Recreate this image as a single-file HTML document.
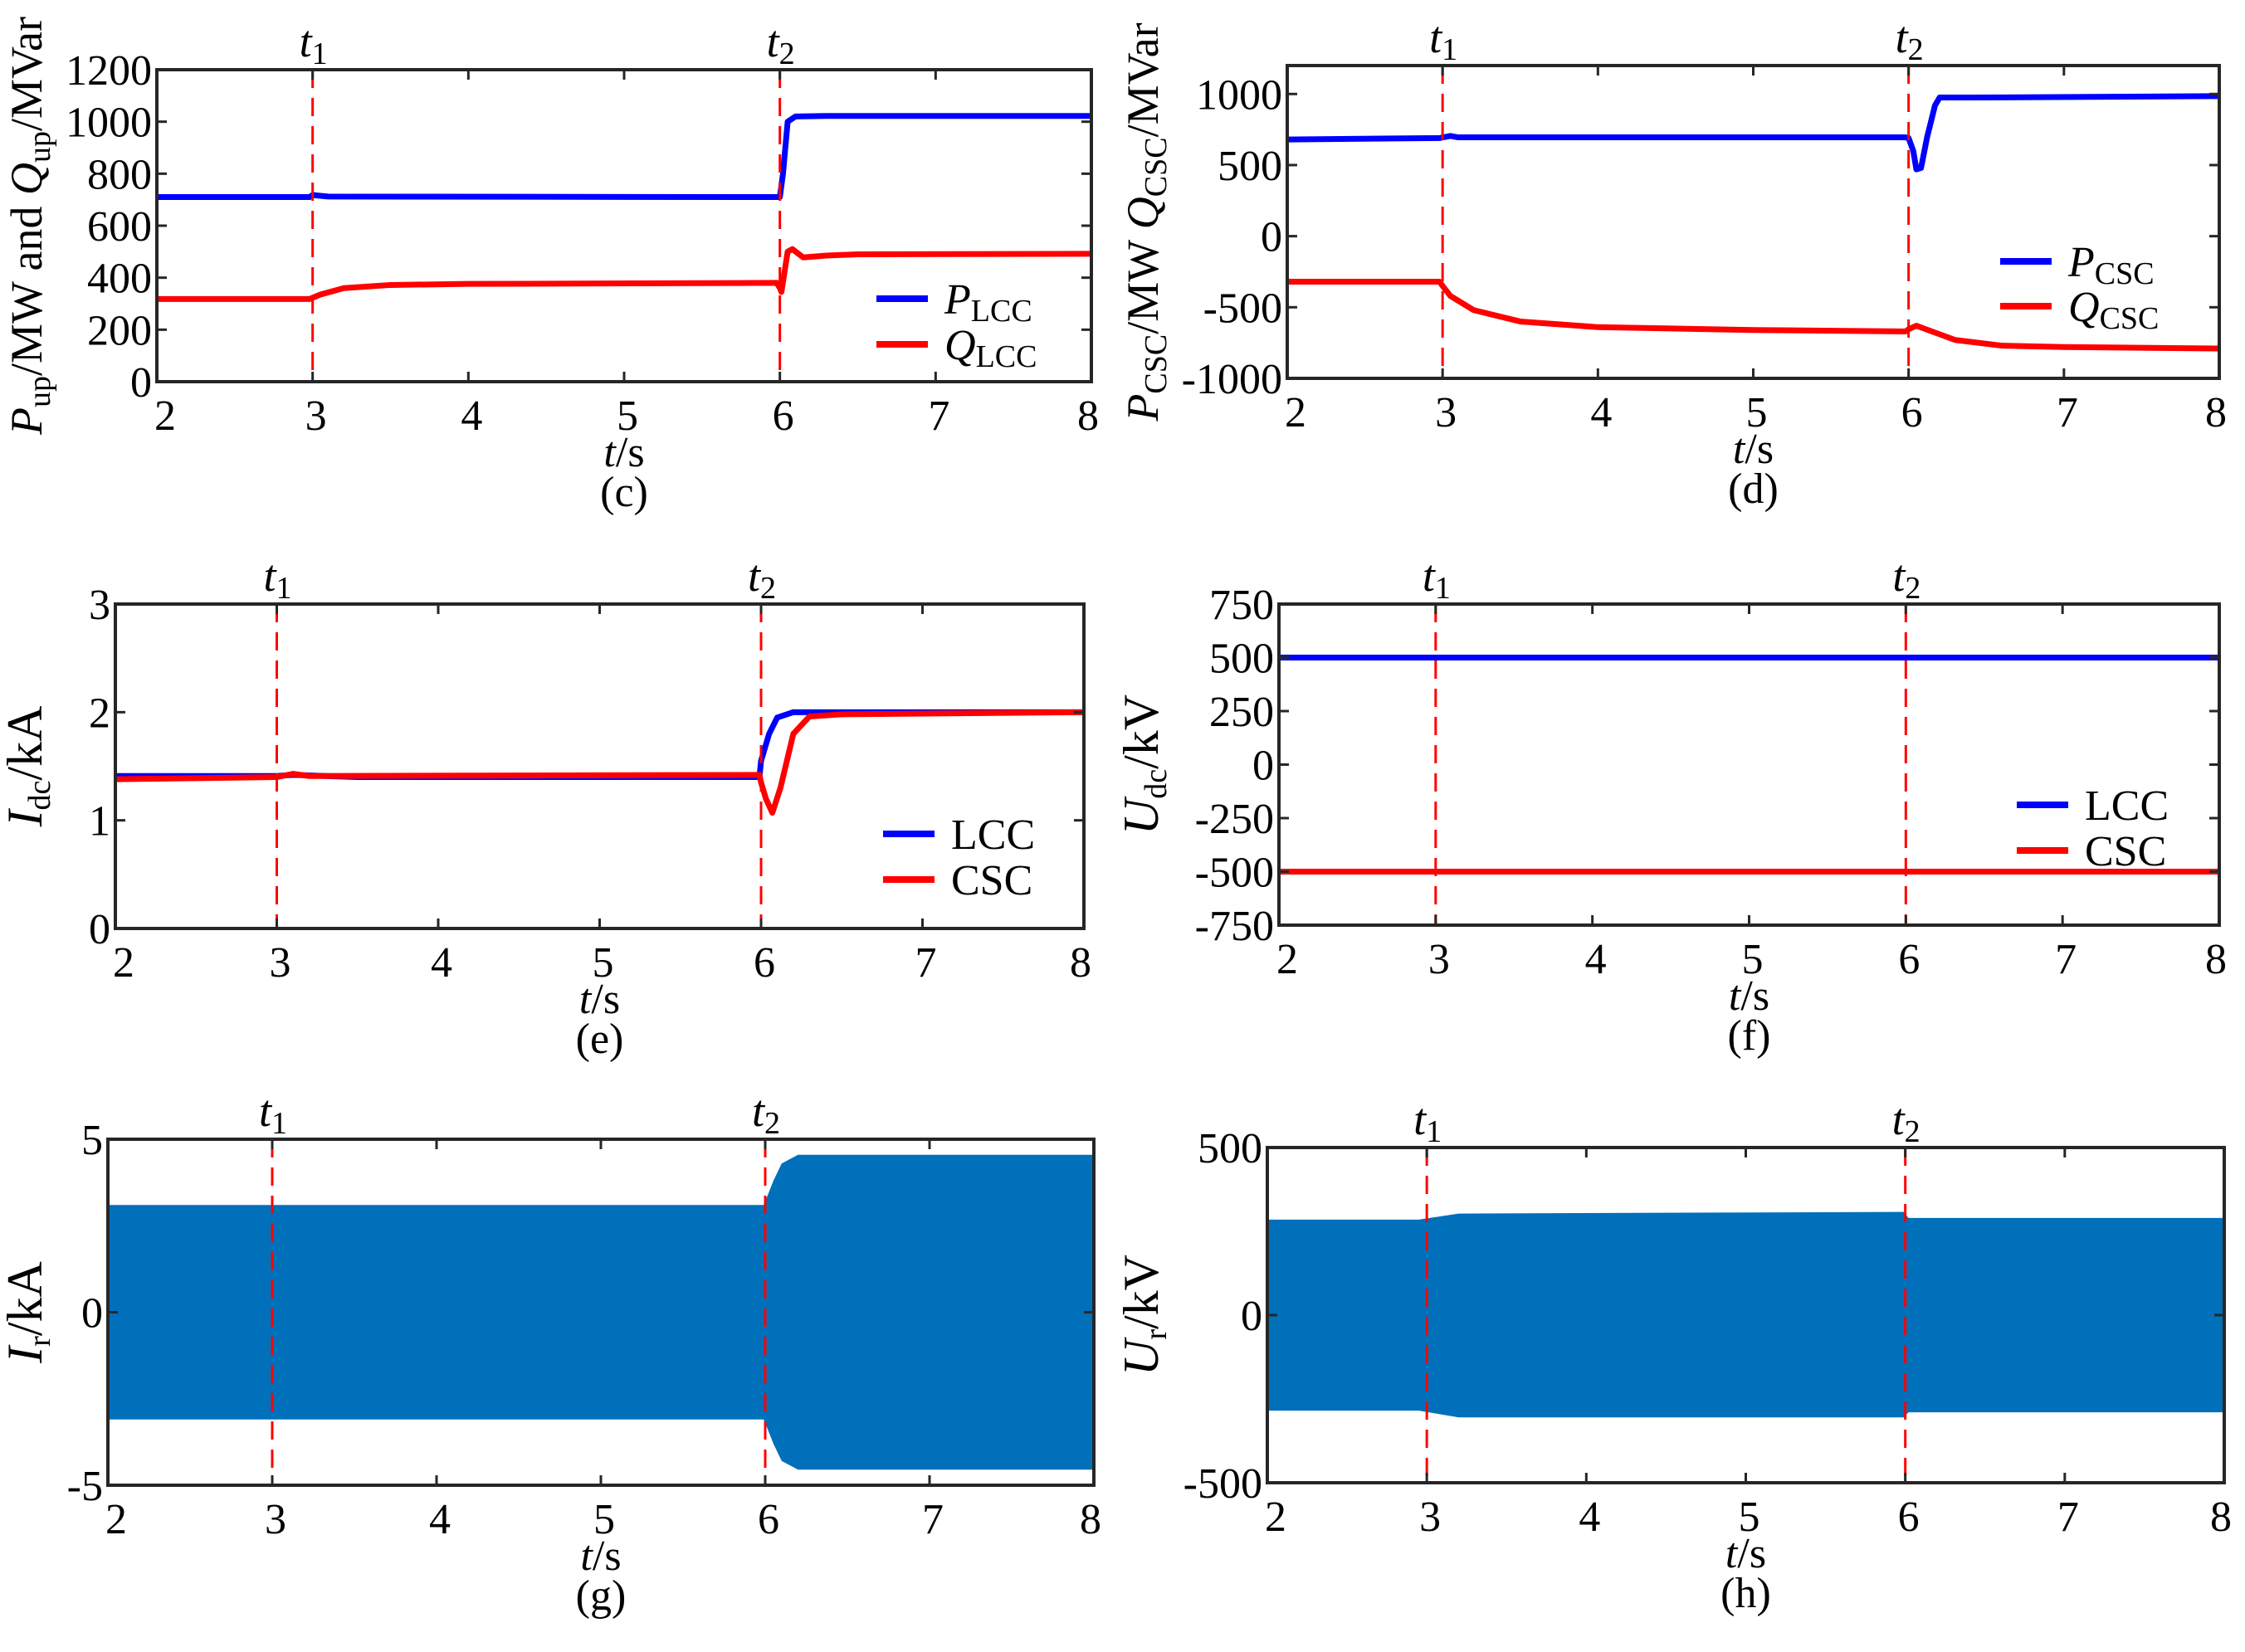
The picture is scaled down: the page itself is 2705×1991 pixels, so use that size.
<!DOCTYPE html>
<html><head><meta charset="utf-8">
<style>
html,body{margin:0;padding:0;background:#fff;}
svg, svg text{font-family:"Liberation Serif","Times New Roman",serif;}
</style></head>
<body>
<svg id="fig" width="2705" height="1986" viewBox="0 0 2705 1986" xmlns="http://www.w3.org/2000/svg" font-family="Liberation Serif, serif"></svg>
<script>
// ---- data ----
const xTicks = [2,3,4,5,6,7,8];
const eventTimes = [3,6];
// (c)
const cT_P = [2,2.98,3.0,3.1,5.98,6.0,6.02,6.05,6.1,6.3,8];
const cP = [710,710,718,712,710,710,800,1000,1020,1022,1022];
const cT_Q = [2,2.98,3.05,3.2,3.5,4,5.98,6.0,6.01,6.05,6.08,6.15,6.3,6.5,8];
const cQ = [318,318,335,360,372,376,380,360,345,500,510,478,485,490,492];
const cYTicks = [0,200,400,600,800,1000,1200];
// (d)
const dT_P = [2,2.98,3.05,3.1,5.98,6.0,6.03,6.05,6.08,6.12,6.17,6.2,6.4,8];
const dP = [680,690,705,695,695,690,600,470,480,700,920,975,975,985];
const dT_Q = [2,2.98,3.0,3.05,3.2,3.5,4,5,5.98,6.0,6.05,6.1,6.3,6.6,7,8];
const dQ = [-320,-320,-350,-420,-520,-600,-640,-660,-670,-655,-630,-650,-730,-770,-780,-790];
const dYTicks = [-1000,-500,0,500,1000];
// (e)
const eT_L = [2,3,3.1,3.5,5.99,6.0,6.05,6.1,6.2,8];
const eL = [1.41,1.41,1.42,1.40,1.40,1.55,1.8,1.95,2.0,2.0];
const eT_C = [2,3,3.1,3.2,5.99,6.0,6.03,6.07,6.12,6.2,6.3,6.5,8];
const eC = [1.38,1.40,1.43,1.41,1.42,1.35,1.2,1.07,1.3,1.8,1.96,1.98,2.0];
const eYTicks = [0,1,2,3];
// (f)
const fT = [2,8];
const fL = [500,500];
const fC = [-500,-500];
const fYTicks = [-750,-500,-250,0,250,500,750];
// (g) envelope
const gT = [2,5.99,6.0,6.05,6.1,6.2,8];
const gUp = [3.1,3.1,3.2,3.8,4.3,4.55,4.55];
const gLo = [-3.1,-3.1,-3.2,-3.8,-4.3,-4.55,-4.55];
const gYTicks = [-5,0,5];
// (h) envelope
const hT = [2,2.95,3.2,5.99,6.02,8];
const hUp = [285,285,303,308,290,290];
const hLo = [-285,-285,-305,-305,-290,-290];
const hYTicks = [-500,0,500];

const NS = "http://www.w3.org/2000/svg";
const svg = document.getElementById('fig');
function mk(tag, attrs, parent){
  const e = document.createElementNS(NS, tag);
  for (const k in attrs) e.setAttribute(k, attrs[k]);
  if (tag === 'text') e.setAttribute('font-family', 'Liberation Serif, Times New Roman, serif');
  (parent||svg).appendChild(e);
  return e;
}
function panel(cfg){
  const g = mk('g',{});
  
  
  const X = t => cfg.x0 + (t-2)/6*(cfg.x1-cfg.x0);
  const Y = v => cfg.y1 - (v-cfg.ymin)/(cfg.ymax-cfg.ymin)*(cfg.y1-cfg.y0);
  (cfg.env||[]).forEach(en=>{
    let d = '';
    en.t.forEach((t,i)=>{ d += (i?'L':'M')+X(t)+' '+Y(en.up[i]); });
    for (let i=en.t.length-1;i>=0;i--) d += 'L'+X(en.t[i])+' '+Y(en.lo[i]);
    const p = mk('path',{d:d+'Z',fill:'#0070bb'},g);
    
    
  });
  (cfg.series||[]).forEach(s=>{
    const pts = s.t.map((t,i)=>X(t)+','+Y(s.v[i])).join(' ');
    const p = mk('polyline',{points:pts,fill:'none',stroke:s.color,'stroke-width':7,'stroke-linejoin':'round'},g);
    
    
  });
  eventTimes.forEach((t,i)=>{
    const l = mk('line',{x1:X(t),x2:X(t),y1:cfg.y0,y2:cfg.y1,stroke:'#ff0000','stroke-width':3,'stroke-dasharray':'22 12'},g);
    
    
    const tx = mk('text',{x:X(t)-16,y:cfg.y0-16,'font-size':54,'font-style':'italic'},g);
    
    
    tx.textContent = 't';
    const sb = mk('tspan',{'font-size':38,'font-style':'normal',dy:9},tx);
    sb.textContent = String(i+1);
  });
  const b = mk('rect',{x:cfg.x0,y:cfg.y0,width:cfg.x1-cfg.x0,height:cfg.y1-cfg.y0,fill:'none',stroke:'#262626','stroke-width':4},g);
  
  
  xTicks.forEach(t=>{
    mk('line',{x1:X(t),x2:X(t),y1:cfg.y1,y2:cfg.y1-12,stroke:'#262626','stroke-width':3},g);
    mk('line',{x1:X(t),x2:X(t),y1:cfg.y0,y2:cfg.y0+12,stroke:'#262626','stroke-width':3},g);
    const tl = mk('text',{x:X(t)+(t===2?10:t===8?-4:4),y:cfg.y1+58,'font-size':52,'text-anchor':'middle'},g);
    
    
    tl.textContent = String(t);
  });
  cfg.yTicks.forEach(v=>{
    mk('line',{x1:cfg.x0,x2:cfg.x0+12,y1:Y(v),y2:Y(v),stroke:'#262626','stroke-width':3},g);
    mk('line',{x1:cfg.x1,x2:cfg.x1-12,y1:Y(v),y2:Y(v),stroke:'#262626','stroke-width':3},g);
    const tl = mk('text',{x:cfg.x0-6,y:Y(v)+18,'font-size':52,'text-anchor':'end'},g);
    
    
    tl.textContent = String(v);
  });
  const xt = mk('text',{x:(cfg.x0+cfg.x1)/2,y:cfg.y1+102,'font-size':52,'text-anchor':'middle'},g);
  
  
  const ti = mk('tspan',{'font-style':'italic'},xt); ti.textContent='t';
  const ts = mk('tspan',{},xt); ts.textContent='/s';
  const cp = mk('text',{x:(cfg.x0+cfg.x1)/2,y:cfg.y1+150,'font-size':52,'text-anchor':'middle'},g);
  
  
  cp.textContent = '('+cfg.id+')';
  const yt = mk('text',{x:0,y:0,'font-size':cfg.yfs||56,'text-anchor':'middle',transform:'translate('+cfg.ytx+','+((cfg.y0+cfg.y1)/2)+') rotate(-90)'},g);
  
  
  cfg.ytitle.forEach(p=>{
    const s = mk('tspan',{},yt);
    if (p.i) s.setAttribute('font-style','italic');
    if (p.sub){ s.setAttribute('font-size','38'); s.setAttribute('dy','10'); }
    if (p.up){ s.setAttribute('dy','-10'); }
    s.textContent = p.s;
  });
  (cfg.legend||[]).forEach((lg,i)=>{
    const y = cfg.lg.y + i*cfg.lg.dy;
    const l = mk('line',{x1:cfg.lg.x,x2:cfg.lg.x+62,y1:y,y2:y,stroke:lg.color,'stroke-width':8},g);
    
    
    const t = mk('text',{x:cfg.lg.x+82,y:y+18,'font-size':52},g);
    
    
    if (lg.sym){
      const a = mk('tspan',{'font-style':'italic'},t); a.textContent = lg.sym;
      const b2 = mk('tspan',{'font-size':38,dy:9},t); b2.textContent = lg.sub;
    } else t.textContent = lg.label;
  });
}
panel({id:'c',x0:189,x1:1315,y0:84,y1:460,ymin:0,ymax:1200,yTicks:cYTicks,ytx:50,yfs:54,
  series:[{t:cT_P,v:cP,color:'#0000ff',name:'series-p-lcc'},{t:cT_Q,v:cQ,color:'#ff0000',name:'series-q-lcc'}],
  ytitle:[{s:'P',i:1},{s:'up',sub:1},{s:'/MW and ',up:1},{s:'Q',i:1},{s:'up',sub:1},{s:'/MVar',up:1}],
  legend:[{color:'#0000ff',sym:'P',sub:'LCC'},{color:'#ff0000',sym:'Q',sub:'LCC'}],lg:{x:1056,y:360,dy:55}});
panel({id:'d',x0:1551,x1:2674,y0:79,y1:456,ymin:-1000,ymax:1200,yTicks:dYTicks,ytx:1395,yfs:54,
  series:[{t:dT_P,v:dP,color:'#0000ff',name:'series-p-csc'},{t:dT_Q,v:dQ,color:'#ff0000',name:'series-q-csc'}],
  ytitle:[{s:'P',i:1},{s:'CSC',sub:1},{s:'/MW ',up:1},{s:'Q',i:1},{s:'CSC',sub:1},{s:'/MVar',up:1}],
  legend:[{color:'#0000ff',sym:'P',sub:'CSC'},{color:'#ff0000',sym:'Q',sub:'CSC'}],lg:{x:2410,y:315,dy:54}});
panel({id:'e',x0:139,x1:1306,y0:728,y1:1119,ymin:0,ymax:3,yTicks:eYTicks,ytx:50,yfs:60,
  series:[{t:eT_L,v:eL,color:'#0000ff',name:'series-idc-lcc'},{t:eT_C,v:eC,color:'#ff0000',name:'series-idc-csc'}],
  ytitle:[{s:'I',i:1},{s:'dc',sub:1},{s:'/kA',up:1}],
  legend:[{color:'#0000ff',label:'LCC'},{color:'#ff0000',label:'CSC'}],lg:{x:1064,y:1005,dy:55}});
panel({id:'f',x0:1541,x1:2674,y0:728,y1:1115,ymin:-750,ymax:750,yTicks:fYTicks,ytx:1395,yfs:60,
  series:[{t:fT,v:fL,color:'#0000ff',name:'series-udc-lcc'},{t:fT,v:fC,color:'#ff0000',name:'series-udc-csc'}],
  ytitle:[{s:'U',i:1},{s:'dc',sub:1},{s:'/kV',up:1}],
  legend:[{color:'#0000ff',label:'LCC'},{color:'#ff0000',label:'CSC'}],lg:{x:2430,y:970,dy:55}});
panel({id:'g',x0:130,x1:1318,y0:1373,y1:1790,ymin:-5,ymax:5,yTicks:gYTicks,ytx:50,yfs:60,
  env:[{t:gT,up:gUp,lo:gLo}],
  ytitle:[{s:'I',i:1},{s:'r',sub:1},{s:'/kA',up:1}]});
panel({id:'h',x0:1527,x1:2680,y0:1383,y1:1787,ymin:-500,ymax:500,yTicks:hYTicks,ytx:1395,yfs:60,
  env:[{t:hT,up:hUp,lo:hLo}],
  ytitle:[{s:'U',i:1},{s:'r',sub:1},{s:'/kV',up:1}]});
</script>
</body></html>
